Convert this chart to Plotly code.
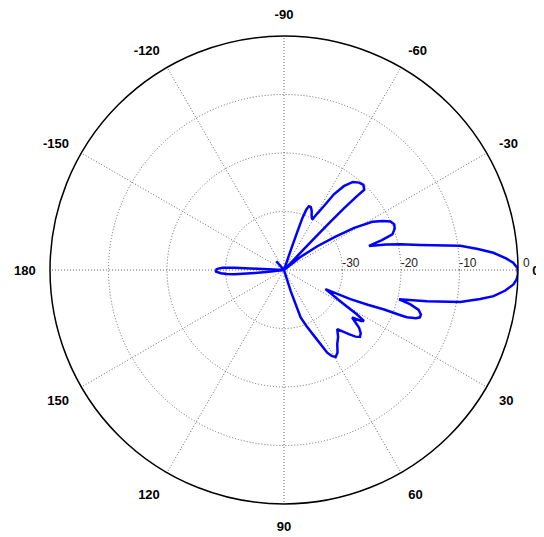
import plotly.graph_objects as go
import numpy as np

# Radiation pattern, in drawing order (angle in degrees, gain in dB)
theta_deg = [-180, -179, -178, -177.3, -177.2, -177,
             -134, -131.5, -129,
             -72, -71.2, -70.8, -70.5, -69.8, -68.7, -67, -65, -63, -60.8, -59.5, -58,
             -56.6, -54.5, -52, -49.3, -47, -45, -45.4, -45.8, -46.1, -46.3, -46.5, -46.6,
             -41, -38.5, -35.5, -33, -31, -28.6, -26.3, -24.5, -22.5, -20.5, -18.2, -17,
             -15.8, -14, -12.4, -10.4, -7.8, -6.2, -4.7, -3, -1.8, -0.5, 1, 2.3, 3.6, 5.3,
             7.1, 8.4, 10.3, 12.3, 13.5, 14.3, 15.2, 16.5, 18, 19.2, 20.1, 21, 21.2, 21.5,
             22.5, 23.7, 24.8, 29.7, 31.3, 32.5, 33.5, 34.9, 37.6, 39.5, 41.4, 43, 44.7,
             48, 51, 54.3, 57, 59.3, 61, 62.4, 65, 68, 70.7, 72.4, 73.5,
             172, 173.5, 174.3, 175, 176, 177, 178.5, 180]
gain_db = [-28.3, -28.6, -29.5, -31.5, -35.5, -40,
           -40, -38, -40,
           -40, -36.5, -33, -30.5, -29, -28.3, -28.3, -28.8, -29.6, -30.1, -28.8, -27.1,
           -24.5, -22.4, -20.9, -20.3, -20.1, -20.6, -22.5, -25.5, -29, -33, -37, -40,
           -40, -36.5, -33, -29.5, -26, -22.8, -21.1, -20.0, -19.6, -19.8, -20.5, -22.5,
           -24.9, -22, -19.6, -16.4, -9.6, -6.65, -4.1, -2, -0.8, -0.1, 0, -0.2, -0.7, -2,
           -3.9, -6.1, -9.4, -15, -18, -19.7, -17.6, -16, -15.4, -15.4, -16, -17.5, -18.5, -21.6,
           -24.5, -27.6, -32.2, -28.2, -25.5, -23.8, -24.2, -25.8, -23.8, -23, -22.7, -23.3, -24.4,
           -26.4, -25.3, -24.4, -23.2, -22.7, -23.2, -24.05, -27.2, -29.6, -31.4, -36.2, -40,
           -40, -37, -35, -31.5, -30.2, -29.2, -28.4, -28.3]

angle_ticks = [0, 30, 60, 90, 120, 150, 180, 210, 240, 270, 300, 330]
angle_labels = ["0", "30", "60", "90", "120", "150", "180", "-150", "-120", "-90", "-60", "-30"]
radial_ticks = [-30, -20, -10, 0]
radial_labels = ["-30", "-20", "-10", "0"]

floor_db = -40
r_vals = np.maximum(np.array(gain_db), floor_db)

nb = "\u00a0" * 5
fig = go.Figure(go.Scatterpolar(
    r=r_vals, theta=theta_deg, mode="lines",
    line=dict(color="#0000FF", width=2.5),
    showlegend=False, hoverinfo="skip"))

fnt = "Liberation Sans, Arial, sans-serif"
fig.update_layout(
    width=544, height=537,
    margin=dict(l=42, r=34, t=28, b=41),
    paper_bgcolor="white",
    font=dict(family=fnt, size=12, color="black"),
    polar=dict(
        bgcolor="white",
        domain=dict(x=[0, 1], y=[0, 1]),
        angularaxis=dict(
            direction="clockwise", rotation=0,
            tickmode="array", tickvals=angle_ticks, ticktext=angle_labels,
            showline=True, linecolor="black", linewidth=1.5,
            showgrid=True, gridcolor="#666666", griddash="1px,2px", gridwidth=1,
            ticks="outside", ticklen=11, tickcolor="rgba(0,0,0,0)",
            tickfont=dict(size=13, color="black", family=fnt, weight="bold"),
        ),
        radialaxis=dict(
            range=[floor_db, 0], angle=0, side="counterclockwise",
            tickmode="array", tickvals=radial_ticks,
            ticktext=[nb + t for t in radial_labels],
            showline=False, ticks="",
            showgrid=True, gridcolor="#666666", griddash="1px,2px", gridwidth=1,
            tickfont=dict(size=12, color="#222222", family=fnt),
        ),
    ),
)

fig.write_html("out.html")
